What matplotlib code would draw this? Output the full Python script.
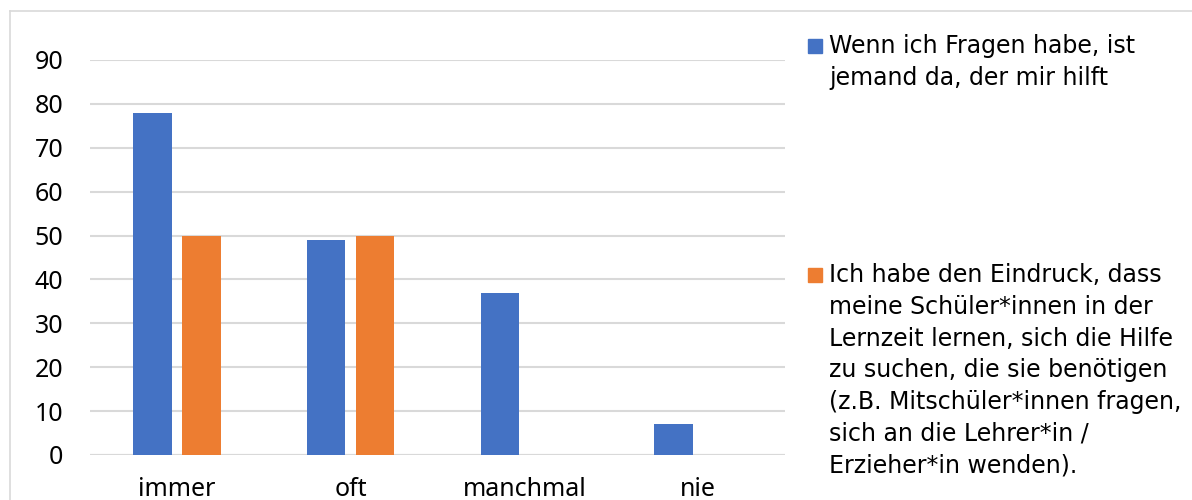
import matplotlib
matplotlib.use("Agg")
import matplotlib.pyplot as plt
from matplotlib.patches import Rectangle
from matplotlib.lines import Line2D
import numpy as np

categories = ["immer", "oft", "manchmal", "nie"]
series_names = [
    "Wenn ich Fragen habe, ist\njemand da, der mir hilft",
    "Ich habe den Eindruck, dass\nmeine Schüler*innen in der\nLernzeit lernen, sich die Hilfe\n"
    "zu suchen, die sie benötigen\n(z.B. Mitschüler*innen fragen,\nsich an die Lehrer*in /\nErzieher*in wenden).",
]
helper_values = [78, 49, 37, 7]
impression_values = [50, 50, 0, 0]
y_ticks = [0, 10, 20, 30, 40, 50, 60, 70, 80, 90]

BLUE = "#4472C4"
ORANGE = "#ED7D31"
GRID = "#D9D9D9"

W, H = 1192, 500
fig = plt.figure(figsize=(W / 100, H / 100), dpi=100)
fig.patch.set_facecolor("white")

# chart frame (top and left edges visible)
fig.add_artist(Line2D([10 / W, 1.0], [1 - 11 / H, 1 - 11 / H], color=GRID, lw=1.2,
                      transform=fig.transFigure))
fig.add_artist(Line2D([10 / W, 10 / W], [0, 1 - 11 / H], color=GRID, lw=1.2,
                      transform=fig.transFigure))

ax = fig.add_axes([90 / W, (H - 455) / H, (785 - 90) / W, (455 - 60) / H])
x = np.arange(len(categories))
bw = 0.221
off = 0.141
ax.bar(x - off, helper_values, width=bw, color=BLUE, zorder=3)
ax.bar(x + off, impression_values, width=bw, color=ORANGE, zorder=3)

ax.set_xlim(-0.5, len(categories) - 0.5)
ax.set_ylim(0, 90)
ax.set_yticks(y_ticks)
ax.set_yticklabels([str(v) for v in y_ticks], fontsize=18, family="Noto Sans")
ax.set_xticks(x)
ax.set_xticklabels(categories, fontsize=18, family="Noto Sans")
ax.tick_params(axis="both", length=0, colors="black")
ax.tick_params(axis="y", pad=19)
ax.tick_params(axis="x", pad=16)
ax.yaxis.grid(True, color=GRID, lw=1.5, zorder=0)
for s in ax.spines.values():
    s.set_visible(False)
ax.axhline(0, color=GRID, lw=1.5, zorder=2)

# legend drawn as coloured squares with wrapped text
legend_items = [(series_names[0], BLUE, 39), (series_names[1], ORANGE, 268)]
for text, col, ytop in legend_items:
    fig.add_artist(Rectangle((808 / W, 1 - (ytop + 14) / H), 14 / W, 14 / H,
                             color=col, transform=fig.transFigure))
    fig.text(829 / W, 1 - (ytop - 5) / H, text, fontsize=17, family="DejaVu Sans",
             va="top", ha="left", linespacing=1.41, color="black")

fig.savefig("out.png", dpi=100, facecolor="white")
